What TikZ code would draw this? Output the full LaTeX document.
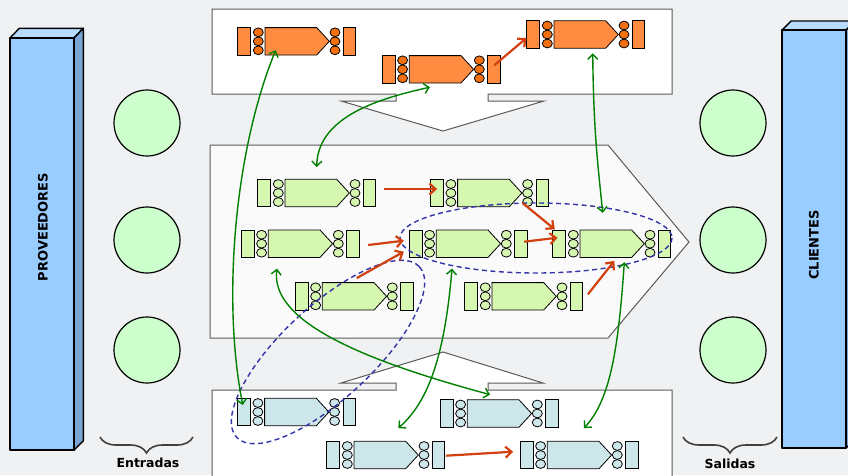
\documentclass[tikz,border=0pt]{standalone}
\usepackage{fontspec}
\setsansfont{DejaVu Sans}
\usetikzlibrary{calc,arrows.meta,decorations.pathreplacing}
\definecolor{fondo}{RGB}{240,241,243}
\definecolor{barra}{RGB}{153,204,255}
\definecolor{barratop}{RGB}{184,220,255}
\definecolor{barralado}{RGB}{122,166,214}
\definecolor{punto}{RGB}{204,255,204}
\definecolor{naranja}{RGB}{255,140,64}
\definecolor{naranjao}{RGB}{242,112,16}
\definecolor{verdeclaro}{RGB}{214,247,176}
\definecolor{celeste}{RGB}{204,230,234}
\definecolor{rojo}{RGB}{210,64,16}
\definecolor{verde}{RGB}{0,128,0}
\definecolor{azul}{RGB}{51,51,170}
\definecolor{borde}{RGB}{90,90,90}
\tikzset{pieza/.style = {draw=black, line width=0.8pt}}
\tikzset{caja/.style = {draw=borde, line width=1pt}}
\tikzset{cubo/.style = {draw=black, line width=1.4pt, line join=round}}
\tikzset{circulo/.style = {draw=black, line width=1.2pt, fill=punto}}
\tikzset{flow/.style = {draw=rojo, line width=2.2pt, -{Straight Barb[length=6pt,width=11pt]}}}
\tikzset{link/.style = {draw=verde, line width=1.4pt, {Straight Barb[length=5pt,width=10pt]}-{Straight Barb[length=5pt,width=10pt]}}}
\tikzset{grupo/.style = {draw=azul, line width=1.4pt, dash pattern=on 5pt off 3.5pt}}
\tikzset{llave/.style = {draw=black!75, line width=1.6pt, decorate, decoration={brace, mirror, amplitude=16pt}}}
\tikzset{etiqueta/.style = {font=\sffamily\bfseries\fontsize{13}{15}\selectfont, inner sep=0}}

\newcommand{\bloque}[5]{%
  \begin{scope}[shift={(#2,#3)}]
    \filldraw[pieza, fill=#4] (0,-13.7) rectangle (13,13.7);
    \filldraw[pieza, fill=#4] (105.6,-13.7) rectangle (118,13.7);
    \filldraw[pieza, fill=#4] (27.3,-13.7) -- (79,-13.7) -- (91.6,0) -- (79,13.7) -- (27.3,13.7) -- cycle;
    \foreach \e in {-9,0,9} {
      \filldraw[pieza, fill=#5] (20.6,\e) ellipse [x radius=5, y radius=4.4];
      \filldraw[pieza, fill=#5] (97.3,\e) ellipse [x radius=5, y radius=4.4];
    }
  \end{scope}
  \node[minimum width=118, minimum height=27.4, inner sep=0] (#1) at (#2+59,#3) {};
}

\begin{document}
\begin{tikzpicture}[x=1pt, y=-1pt]
\useasboundingbox (0,0) rectangle (848,475);
\clip (0,0) rectangle (848,475);
\fill[fondo] (0,0) rectangle (848,475);

% proveedores y clientes
\filldraw[cubo, fill=barratop] (10,38) -- (19.3,28.3) -- (83.3,28.3) -- (74,38) -- cycle;
\filldraw[cubo, fill=barralado] (74,38) -- (83.3,28.3) -- (83.3,440.7) -- (74,450) -- cycle;
\filldraw[cubo, fill=barra] (10,38) rectangle (74,450);
\node[etiqueta, rotate=90] (prov) at (43,227) {PROVEEDORES};
\filldraw[cubo, fill=barratop] (782,30) -- (791,21) -- (855,21) -- (846,30) -- cycle;
\filldraw[cubo, fill=barralado] (846,30) -- (855,21) -- (855,439) -- (846,448) -- cycle;
\filldraw[cubo, fill=barra] (782,30) rectangle (846,448);
\node[etiqueta, rotate=90] (cli) at (814,245) {CLIENTES};

\foreach \y in {123,240,350} {
  \filldraw[circulo] (147,\y) circle (33);
  \filldraw[circulo] (733,\y) circle (33);
}
\draw[llave] (100,437) -- (193,437);
\draw[llave] (683,437) -- (777,437);
\node[etiqueta, font=\sffamily\bfseries\fontsize{12.5}{15}\selectfont] (ent) at (148,463) {Entradas};
\node[etiqueta, font=\sffamily\bfseries\fontsize{12.5}{15}\selectfont] (sal) at (730,464) {Salidas};

% cajas
\filldraw[caja, fill=white] (212,9) -- (672,9) -- (672,94) -- (488,94) -- (488,101) -- (544,101)
  -- (443,131) -- (341,101) -- (396,101) -- (396,94) -- (212,94) -- cycle;
\filldraw[caja, fill=black!2!white] (210,145) -- (608,145) -- (689,242) -- (608,338) -- (210,338) -- cycle;
\filldraw[caja, fill=white] (212,480) -- (212,390) -- (396,390) -- (396,383) -- (341,383) -- (443,352)
  -- (543,383) -- (488,383) -- (488,390) -- (672,390) -- (672,480);

\bloque{o1}{237.7}{41.3}{naranja}{naranjao}
\bloque{o2}{382}{69.3}{naranja}{naranjao}
\bloque{o3}{526.7}{34.5}{naranja}{naranjao}
\bloque{g1}{257.7}{193}{verdeclaro}{verdeclaro}
\bloque{g2}{430.3}{193}{verdeclaro}{verdeclaro}
\bloque{g3}{241}{243.7}{verdeclaro}{verdeclaro}
\bloque{g4}{409}{243.7}{verdeclaro}{verdeclaro}
\bloque{g5}{552.7}{243.7}{verdeclaro}{verdeclaro}
\bloque{g6}{295}{296.3}{verdeclaro}{verdeclaro}
\bloque{g7}{464.7}{296.3}{verdeclaro}{verdeclaro}
\bloque{b1}{237.3}{412}{celeste}{celeste}
\bloque{b2}{440}{413.5}{celeste}{celeste}
\bloque{b3}{326.7}{455}{celeste}{celeste}
\bloque{b4}{520}{455}{celeste}{celeste}

\draw[grupo] (536,238) ellipse [x radius=136, y radius=35];
\draw[grupo, rotate around={43:(328,352)}] (328,352) ellipse [x radius=125, y radius=46];

\draw[flow] ($(o2.east)+(-6,-4)$) -- ($(o3.west)+(0,3.5)$);
\draw[flow] ($(g1.east)+(8,-4)$) -- ($(g2.west)+(7,-4)$);
\draw[flow] ($(g2.east)+(-26,10)$) -- ($(g5.west)+(2.3,-14.4)$);
\draw[flow] ($(g3.east)+(9,1.3)$) -- ($(g4.west)+(-5,-3)$);
\draw[flow] ($(g6.north)+(2.7,-4.3)$) -- ($(g4.west)+(-5,8)$);
\draw[flow] ($(g4.east)+(-3,-2)$) -- ($(g5.west)+(5,-6)$);
\draw[flow] ($(g7.east)+(5,-2)$) -- ($(g5.south)+(2.6,3.3)$);
\draw[flow] ($(b3.east)+(1,0.7)$) -- ($(b4.west)+(-6.7,-3.3)$);

\draw[link] ($(o1.south)+(-21,-5)$) .. controls +(-41,100) and +(-21,-105) .. ($(b1.west)+(5.7,-7)$);
\draw[link] ($(o2.south)+(-11,4)$) .. controls +(-60,13) and +(1,-47) .. ($(g1.north)+(0,-12)$);
\draw[link] ($(o3.south)+(7,5)$) .. controls +(1,80) and +(-5,-50) .. ($(g5.north)+(-9,-17)$);
\draw[link] ($(g3.south)+(-23,11)$) .. controls +(-7,52) and +(-130,-35) .. ($(b2.north)+(-9,-5)$);
\draw[link] ($(g4.south)+(-16,11)$) .. controls +(-7,82) and +(32,-28) .. ($(b3.north)+(12.6,-13)$);
\draw[link] ($(g5.south)+(12.6,4.6)$) .. controls +(-6,88) and +(26,-28) .. ($(b4.north)+(5,-13)$);
\end{tikzpicture}
\end{document}
